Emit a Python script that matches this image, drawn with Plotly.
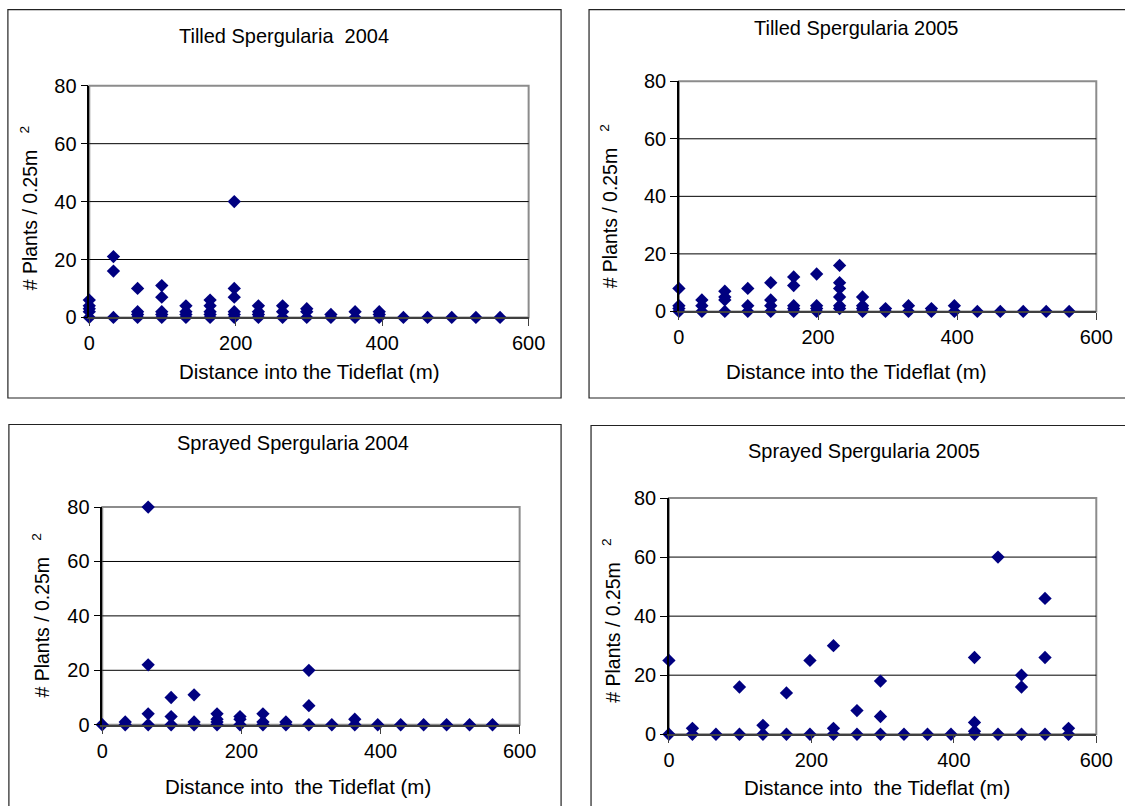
import plotly.graph_objects as go

# ---------------- data ----------------
stations = [0, 33, 66, 99, 132, 165, 198, 231, 264, 297, 330, 363, 396, 429, 462, 495, 528, 561]

tilled_2004 = [
    [6, 4, 3, 2, 0], [21, 16, 0], [10, 2, 1, 0], [11, 7, 2, 1, 0], [4, 2, 1, 0],
    [6, 4, 2, 1, 0], [40, 10, 7, 2, 1, 0], [4, 2, 1, 0], [4, 2, 0], [3, 2, 0],
    [1, 0], [2, 0], [2, 1, 0], [0], [0], [0], [0], [0],
]
tilled_2005 = [
    [8, 2, 1, 0], [4, 2, 0], [7, 5, 4, 0], [8, 2, 0], [10, 4, 2, 0],
    [12, 9, 2, 1, 0], [13, 2, 1, 0], [16, 10, 8, 5, 2, 1], [5, 2, 1, 0], [1, 0],
    [2, 0], [1, 0], [2, 0], [0], [0], [0], [0], [0],
]
sprayed_2004 = [
    [0], [1, 0], [80, 22, 4, 0], [10, 3, 0], [11, 1, 0],
    [4, 2, 1, 0], [3, 2, 0], [4, 1, 0], [1, 0], [20, 7, 0],
    [0], [2, 0], [0], [0], [0], [0], [0], [0],
]
sprayed_2005 = [
    [25, 0], [2, 0], [0], [16, 0], [3, 0],
    [14, 0], [25, 0], [30, 2, 0], [8, 0], [18, 6, 0],
    [0], [0], [0], [26, 4, 1, 0], [60, 0], [20, 16, 0], [46, 26, 0], [2, 0],
]

titles = ["Tilled Spergularia \u00a02004", "Tilled Spergularia 2005",
          "Sprayed Spergularia 2004", "Sprayed Spergularia 2005"]
xtitles = ["Distance into the Tideflat (m)", "Distance into the Tideflat (m)",
           "Distance into \u00a0the Tideflat (m)", "Distance into \u00a0the Tideflat (m)"]
ytitle = "# Plants / 0.25m\u00a0\u00a0\u00a0<sup>2</sup>"
x_ticks = [0, 200, 400, 600]
y_ticks = [0, 20, 40, 60, 80]
grid_vals = [20, 40, 60]

# ---------------- layout geometry (pixels as seen in the reference) ----------------
W, H = 1125, 806
FONT = "Liberation Sans, Arial, sans-serif"
SX, OX = 0.981, 5.1
SY, OY = 0.972, 10.8
S = (SX + SY) / 2


def fx(px):
    return ((px - OX) / SX) / W


def fy(py):
    return 1 - ((py - OY) / SY) / H


panels = [
    dict(data=tilled_2004, px=(88.5, 528.5), py=(85.5, 317), box=(7, 9.5, 561, 397.5),
         t=(284, 36), xt=(309, 371), yt=(28, 208)),
    dict(data=tilled_2005, px=(679, 1097), py=(81, 311), box=(589, 9.5, 1140, 397.5),
         t=(856, 28), xt=(857, 371), yt=(609, 206)),
    dict(data=sprayed_2004, px=(101.5, 519.5), py=(506.5, 724), box=(8, 424, 561, 830),
         t=(293, 442), xt=(298, 786), yt=(40, 615)),
    dict(data=sprayed_2005, px=(669, 1097), py=(497.5, 733.5), box=(591, 425, 1140, 830),
         t=(864, 450), xt=(877, 787), yt=(611, 620)),
]

fig = go.Figure()
shapes = []
annotations = []

for i, p in enumerate(panels):
    n = "" if i == 0 else str(i + 1)
    xa, ya = "x" + n, "y" + n
    xs, ys = [], []
    for s, vals in zip(stations, p["data"]):
        for v in vals:
            xs.append(s)
            ys.append(v)
    fig.add_trace(go.Scatter(
        x=xs, y=ys, mode="markers", xaxis=xa, yaxis=ya, cliponaxis=False,
        marker=dict(symbol="diamond", size=10 / S, color="#000080",
                    line=dict(width=0)),
        showlegend=False, hoverinfo="x+y"))

    x0, x1 = p["px"]
    yt_, yb_ = p["py"]
    axis_x = dict(domain=[fx(x0), fx(x1)], range=[0, 600], tickvals=x_ticks,
                  showgrid=False, zeroline=False, showline=True, linecolor="#404040",
                  linewidth=2, ticks="outside", ticklen=7, tickcolor="#404040",
                  tickwidth=1, anchor=ya, fixedrange=True,
                  tickfont=dict(family=FONT, size=19.5 / S, color="black"))
    axis_y = dict(domain=[fy(yb_), fy(yt_)], range=[0, 80], tickvals=y_ticks,
                  showgrid=False, zeroline=False, showline=True, linecolor="black",
                  linewidth=1.5, ticks="outside", ticklen=7, tickcolor="black",
                  tickwidth=1, anchor=xa, fixedrange=True,
                  tickfont=dict(family=FONT, size=19.5 / S, color="black"))
    fig.update_layout(**{("xaxis" + n): axis_x, ("yaxis" + n): axis_y})

    shapes.append(dict(type="rect", xref=xa + " domain", yref=ya + " domain",
                       x0=0, x1=1, y0=0, y1=1, line=dict(color="#8c8c8c", width=2),
                       layer="below"))
    for g in grid_vals:
        shapes.append(dict(type="line", xref=xa + " domain", yref=ya, x0=0, x1=1,
                           y0=g, y1=g, line=dict(color="black", width=1), layer="below"))
    bx0, by0, bx1, by1 = p["box"]
    shapes.append(dict(type="rect", xref="paper", yref="paper",
                       x0=fx(bx0), x1=fx(bx1), y0=fy(by1), y1=fy(by0),
                       line=dict(color="#222222", width=1.2), layer="below"))

    annotations.append(dict(text=titles[i], x=fx(p["t"][0]), y=fy(p["t"][1]),
                            xref="paper", yref="paper", showarrow=False,
                            xanchor="center", yanchor="middle",
                            font=dict(family=FONT, size=19.5 / S, color="black")))
    annotations.append(dict(text=xtitles[i], x=fx(p["xt"][0]), y=fy(p["xt"][1]),
                            xref="paper", yref="paper", showarrow=False,
                            xanchor="center", yanchor="middle",
                            font=dict(family=FONT, size=20 / S, color="black")))
    annotations.append(dict(text=ytitle, x=fx(p["yt"][0]), y=fy(p["yt"][1]),
                            xref="paper", yref="paper", showarrow=False, textangle=-90,
                            xanchor="center", yanchor="middle",
                            font=dict(family=FONT, size=19 / S, color="black")))

fig.update_layout(
    width=W, height=H, margin=dict(l=0, r=0, t=0, b=0),
    paper_bgcolor="white", plot_bgcolor="white",
    shapes=shapes, annotations=annotations, showlegend=False,
)

fig.write_html(
    "out.html",
    config={"displayModeBar": False},
    post_script="document.body.style.margin='0';document.body.style.overflow='hidden';",
)
